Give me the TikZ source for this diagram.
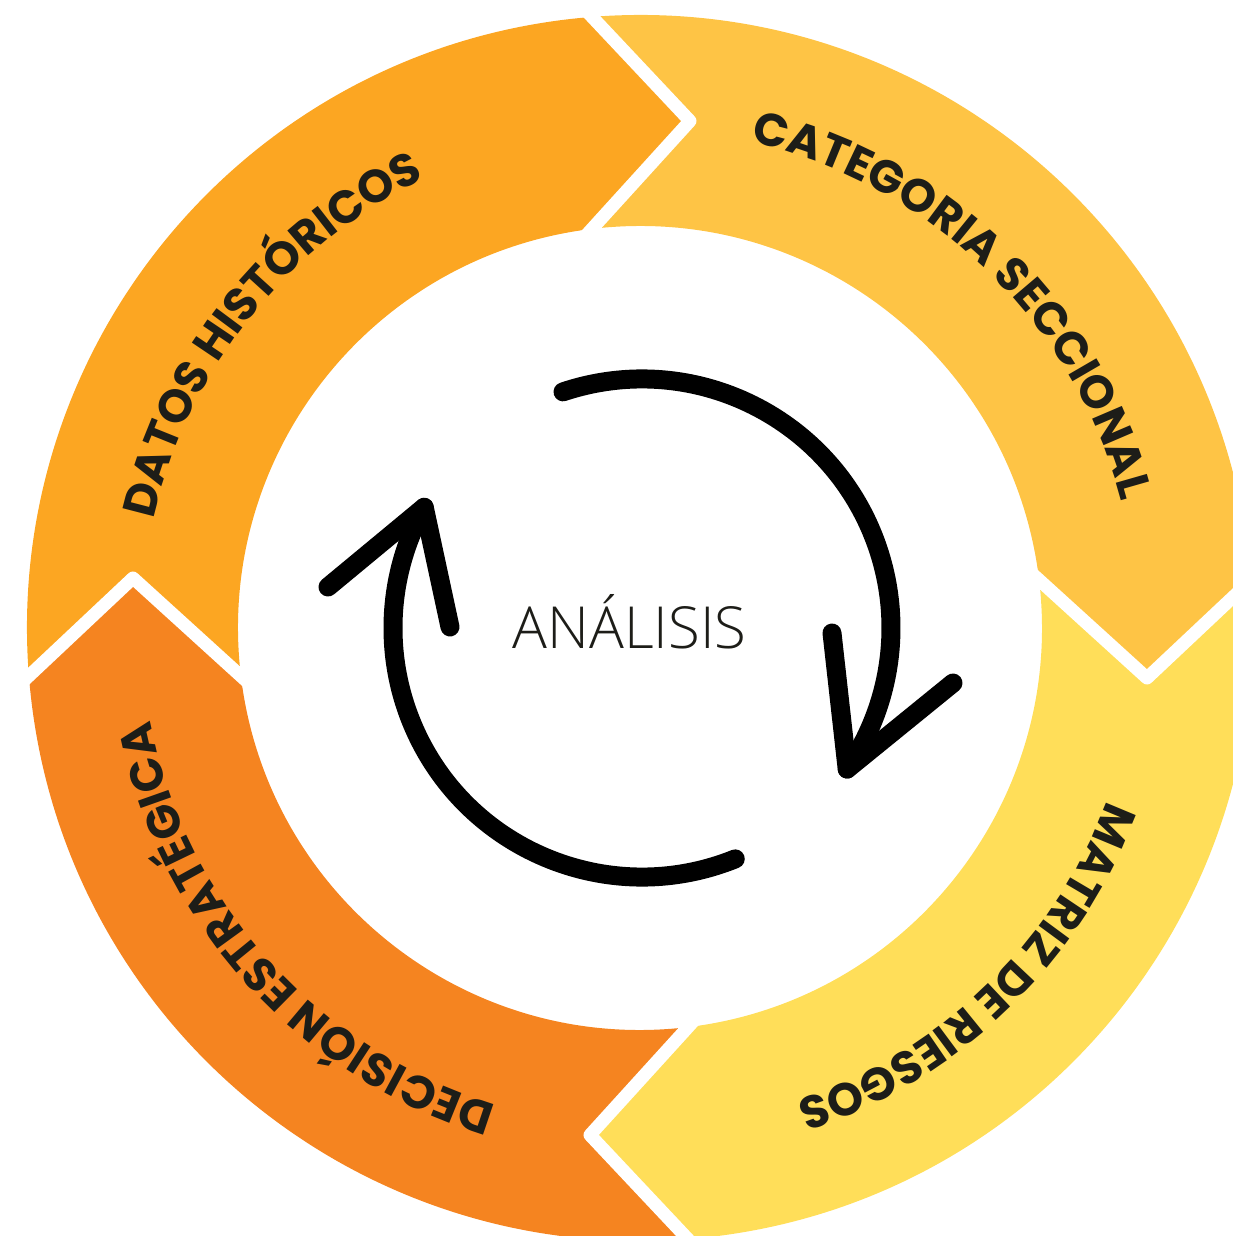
\documentclass[tikz,border=0pt]{standalone}
\usepackage{fontspec}
\usetikzlibrary{decorations.text}
\newfontfamily\ringfont{Poppins}
\newfontfamily\anafont{Open Sans Light}
\definecolor{segA}{RGB}{252,166,34}
\definecolor{segB}{RGB}{254,196,69}
\definecolor{segC}{RGB}{255,222,89}
\definecolor{segD}{RGB}{245,132,32}
\definecolor{ink}{RGB}{29,29,24}
\tikzset{
  sepline/.style={white, line width=13, line join=round},
  arrowline/.style={black, line width=19, line cap=round, line join=round},
  ringlabel/.style={decorate, decoration={text along path, text color=ink, text align=center, text={|\ringfont\bfseries\fontsize{46}{46}\selectfont|#1}}}
}
\begin{document}
\begin{tikzpicture}[x=1pt,y=1pt]
\useasboundingbox (-640,-608) rectangle (593,628);
\clip (-640,-608) rectangle (593,628);
% ring segments
\foreach \c/\r in {segA/0, segB/-90, segC/-180, segD/-270}{
  \fill[\c, rotate=\r] (-611.12,-48) arc[start angle=184.49, end angle=94.49, radius=613]
    -- (50,507) -- (-48,399.13) arc[start angle=96.86, end angle=186.86, radius=402]
    -- (-507,50) -- cycle;
}
% white separators
\foreach \r in {0,-90,-180,-270}{
  \draw[sepline, rotate=\r] (-77.4,642.4) -- (50,507) -- (-77.4,366.8);
}
% labels on the ring
\path[ringlabel={DATOS HISTÓRICOS}] (186.5:498) arc[start angle=186.5, end angle=96.5, radius=498];
\path[ringlabel={CATEGORIA SECCIONAL}] (91:498) arc[start angle=91, end angle=1, radius=498];
\path[ringlabel={MATRIZ DE RIESGOS}] (-1:498) arc[start angle=-1, end angle=-91, radius=498];
\path[ringlabel={DECISIÓN ESTRATÉGICA}] (267:498) arc[start angle=267, end angle=177, radius=498];
% centre
\node[font=\anafont\fontsize{58}{58}\selectfont, text=ink, anchor=base, inner sep=0] (analisis) at (-10.5,-20) {ANÁLISIS};
% cycle arrows
\begin{scope}[shift={(2,0)}]
  \coordinate (wingR1) at (190,-5);
  \coordinate (wingR2) at (311,-55);
  \coordinate (wingL1) at (-314,41);
  \coordinate (wingL2) at (-192,1);
  \draw[arrowline] (108.5:249) arc[start angle=108.5, end angle=-34.5, radius=249] coordinate (tipR);
  \draw[arrowline] (wingR1) -- (tipR) -- (wingR2);
  \draw[arrowline] (-68:249) arc[start angle=-68, end angle=-209, radius=249] coordinate (tipL);
  \draw[arrowline] (wingL1) -- (tipL) -- (wingL2);
\end{scope}
\end{tikzpicture}
\end{document}
